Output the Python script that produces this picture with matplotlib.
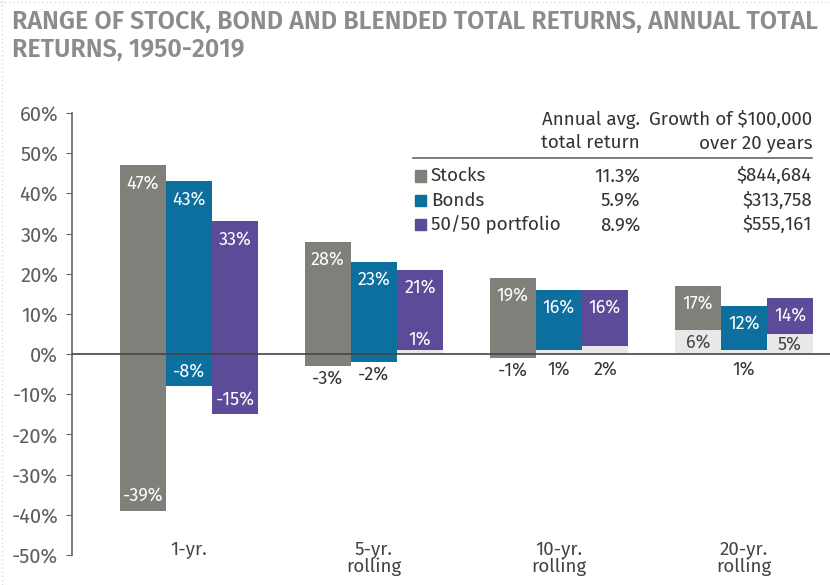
import matplotlib
matplotlib.use("Agg")
import matplotlib.pyplot as plt
import numpy as np

body = ['Fira Sans', 'Roboto', 'DejaVu Sans']
title_font = ['Fira Sans', 'Roboto', 'DejaVu Sans']

categories = ["1-yr.", "5-yr.\nrolling", "10-yr.\nrolling", "20-yr.\nrolling"]
series = ["Stocks", "Bonds", "50/50 portfolio"]
stocks_max = [47, 28, 19, 17]
stocks_min = [-39, -3, -1, 6]
bonds_max = [43, 23, 16, 12]
bonds_min = [-8, -2, 1, 1]
blend_max = [33, 21, 16, 14]
blend_min = [-15, 1, 2, 5]
avg_return = ["11.3%", "5.9%", "8.9%"]
growth = ["$844,684", "$313,758", "$555,161"]
yticks = list(range(-50, 61, 10))

colors = ["#80807b", "#0c6f9e", "#5c4b98"]
light = "#e8e8e8"
txtgray = "#5e5e5e"

fig = plt.figure(figsize=(8.3, 5.85), dpi=100)
ax = fig.add_axes([72/830, 1-555/585, 1-72/830, (555-113)/585])
ax.set_ylim(-50, 60)
ax.set_xlim(-0.632, 3.465)

w = 0.249
maxs = [stocks_max, bonds_max, blend_max]
mins = [stocks_min, bonds_min, blend_min]
x = np.arange(len(categories))
for i in range(3):
    xi = x + (i - 1) * w
    lo = np.array(mins[i]); hi = np.array(maxs[i])
    ax.bar(xi, hi - lo, bottom=lo, width=w, color=colors[i], zorder=2, linewidth=0)
    pos = lo > 0
    ax.bar(xi[pos], lo[pos], bottom=0, width=w, color=light, zorder=1, linewidth=0)

ax.axhline(0, color="#444444", lw=1.2, zorder=3)

fs = 13
kw = dict(fontsize=fs, family=body, fontweight="normal", zorder=4, ha="center", va="center")
for i in range(3):
    for j in range(len(categories)):
        xi = x[j] + (i - 1) * w
        ax.annotate(f"{maxs[i][j]}%", (xi, maxs[i][j]), xytext=(0, -13), textcoords="offset points",
                    color="white", **kw)

for i in range(3):
    for j in range(len(categories)):
        xi = x[j] + (i - 1) * w
        v = mins[i][j]
        lab = f"{v}%"
        if j == 0:
            ax.annotate(lab, (xi, v), xytext=(0, 11), textcoords="offset points", color="white", **kw)
        elif v < 0:
            ax.annotate(lab, (xi, v), xytext=(0, -9), textcoords="offset points", color="#333333", **kw)
        elif v >= 5:
            ax.annotate(lab, (xi, v / 2 - 0.1), color="#444444", **kw)
        elif i == 2 and j == 1:
            ax.annotate(lab, (xi, v), xytext=(0, 8), textcoords="offset points", color="white", **kw)
        else:
            ax.annotate(lab, (xi, 0), xytext=(0, -11), textcoords="offset points", color="#333333", **kw)

for s in ["top", "right", "bottom"]:
    ax.spines[s].set_visible(False)
ax.spines["left"].set_color("#666666")
ax.spines["left"].set_linewidth(1.2)
ax.set_yticks(yticks)
ax.set_yticklabels([f"{t}%" for t in yticks], fontsize=14.5, color=txtgray, family=body, fontweight="normal")
ax.tick_params(axis="y", direction="out", length=4, color="#666666", pad=6)
ax.set_xticks([])

for j, c in enumerate(categories):
    ax.text(x[j], -46.3, c, ha="center", va="top", fontsize=13.5, color="#444444", family=body,
            fontweight="normal", linespacing=1.0)

fig.text(12/830, 1-22/585, "RANGE OF STOCK, BOND AND BLENDED TOTAL RETURNS, ANNUAL TOTAL",
         fontsize=18, fontweight="semibold", color="#8c8c8c", family=title_font, va="center", ha="left")
fig.text(12/830, 1-50/585, "RETURNS, 1950-2019",
         fontsize=18, fontweight="semibold", color="#8c8c8c", family=title_font, va="center", ha="left")

lfs = 13.5
tkw = dict(va="center", fontsize=lfs, color="#333333", family=body, fontweight="normal")
fig.text(640/830, 1-120/585, "Annual avg.", ha="right", **tkw)
fig.text(640/830, 1-143/585, "total return", ha="right", **tkw)
fig.text(812/830, 1-120/585, "Growth of $100,000", ha="right", **tkw)
fig.text(812/830, 1-143/585, "over 20 years", ha="right", **tkw)
fig.add_artist(plt.Line2D([413/830, 812/830], [1-158/585, 1-158/585], color="#666666", lw=1.2))
for k in range(3):
    yy = 1 - (176 + k * 24.5) / 585
    fig.add_artist(plt.Rectangle((415/830, yy - 5.5/585), 11/830, 11/585, color=colors[k], transform=fig.transFigure))
    fig.text(431/830, yy, series[k], ha="left", **tkw)
    fig.text(640/830, yy, avg_return[k], ha="right", **tkw)
    fig.text(812/830, yy, growth[k], ha="right", **tkw)

# faint dotted frame at left and top edges
fig.add_artist(plt.Line2D([2/830, 2/830], [0, 1], color="#d8d8d8", lw=1, ls=(0, (1, 2))))
fig.add_artist(plt.Line2D([0, 1], [1-2/585, 1-2/585], color="#d8d8d8", lw=1, ls=(0, (1, 2))))

fig.savefig("out.png", dpi=100)
